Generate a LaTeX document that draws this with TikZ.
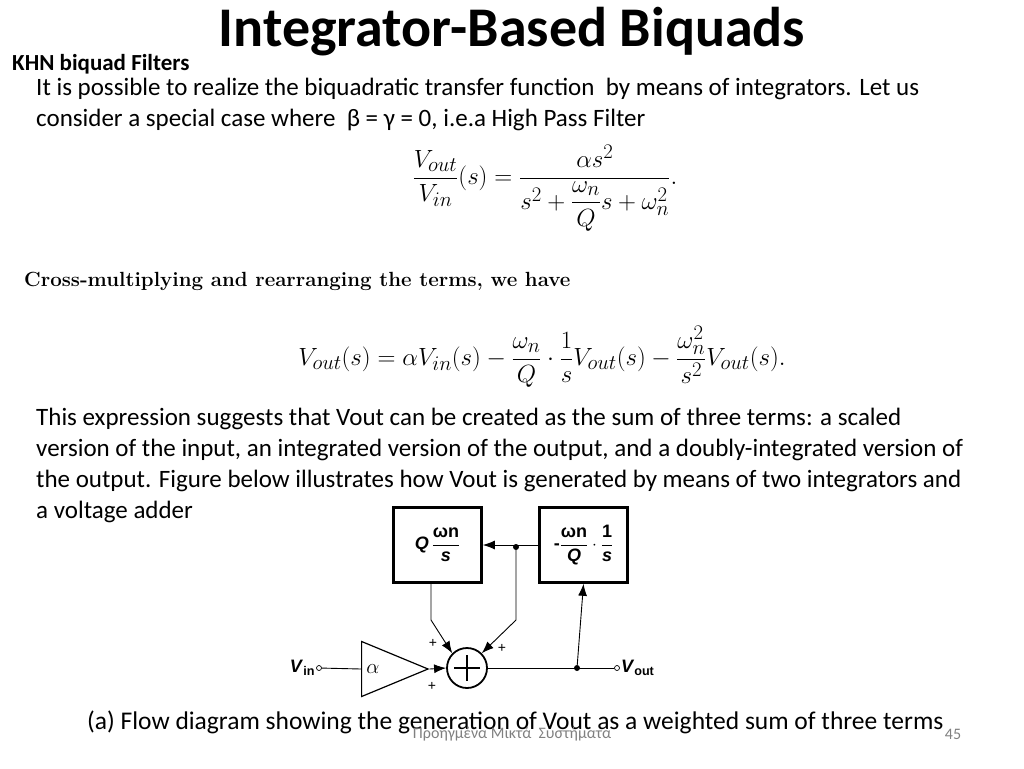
\documentclass[tikz,border=0pt]{standalone}
\usepackage{amsmath}
\usepackage{fontspec}
\setmainfont{Carlito}
\newfontfamily\lmr{Latin Modern Roman}
\newfontfamily\hv{Liberation Sans}
\usetikzlibrary{arrows.meta,shapes.geometric}
\newcommand{\bt}[1]{\text{\hv\bfseries #1}}
\begin{document}
\begin{tikzpicture}[x=1pt,y=-1pt,
  txt/.style={anchor=west,inner sep=0,font=\fontsize{25}{31}\selectfont,align=left},
  blk/.style={draw,line width=2.6pt,minimum width=88,minimum height=75,inner sep=0,font=\hv\bfseries\fontsize{18}{18}\selectfont},
  wire/.style={line width=0.9pt},
  arr/.style={wire,-{Latex[length=12,width=9]}},
  term/.style={circle,draw,inner sep=0,minimum size=5,line width=0.7pt},
  dot/.style={circle,fill,inner sep=0,minimum size=6},
  pl/.style={font=\hv\fontsize{14}{14}\selectfont}]
\useasboundingbox (0,0) rectangle (1024,768);
\node[inner sep=0,font=\bfseries\fontsize{56}{56}\selectfont] (title) at (512,32) {Integrator-Based Biquads};
\node[anchor=west,inner sep=0,font=\bfseries\fontsize{23}{23}\selectfont] (khn) at (12,64) {KHN biquad Filters};
\node[txt] (p1) at (36,104) {It is possible to realize the biquadratic transfer function\ \ by means of integrators. Let us\\consider a special case where\ \ β = γ = 0, i.e.a High Pass Filter};
\node[inner sep=0,font=\fontsize{29}{29}\selectfont] (eq1) at (545,188) {$\displaystyle\frac{V_{out}}{V_{in}}(s)=\frac{\alpha s^2}{s^2+\dfrac{\omega_n}{Q}s+\omega_n^2}.$};
\node[anchor=west,inner sep=0,font=\lmr\bfseries\fontsize{20.5}{20.5}\selectfont] (cm) at (24,281) {Cross-multiplying and rearranging the terms, we have};
\node[inner sep=0,font=\fontsize{28}{28}\selectfont] (eq2) at (542,357) {$\displaystyle V_{out}(s)=\alpha V_{in}(s)-\frac{\omega_n}{Q}\cdot\frac{1}{s}V_{out}(s)-\frac{\omega_n^2}{s^2}V_{out}(s).$};
\node[txt] (p2) at (36,465) {This expression suggests that Vout can be created as the sum of three terms: a scaled\\version of the input, an integrated version of the output, and a doubly-integrated version of\\the output. Figure below illustrates how Vout is generated by means of two integrators and\\a voltage adder};
% diagram
\node[blk] (b1) at (437.5,545) {$\bt{\itshape Q}\,\dfrac{\bt{ωn}}{\bt{\itshape s}}$};
\node[blk] (b2) at (583.5,545) {$\bt{-}\dfrac{\bt{ωn}}{\bt{\itshape Q}}\cdot\dfrac{\bt{1}}{\bt{\itshape s}}$};
\node[circle,draw,line width=1.8pt,minimum size=40,inner sep=0] (sum) at (467,668) {};
\draw[line width=2pt] (sum.center)+(-13,0) -- +(13,0) (sum.center)+(0,-13) -- +(0,13);
\node[draw,isosceles triangle,line width=1.2pt,minimum height=46,minimum width=55,inner sep=0] (amp) at (380,669) {};
\node[font=\fontsize{22}{22}\selectfont] (al) at (373,669) {$\alpha$};
\node[term] (vin) at (319,668) {};
\node[term] (vout) at (617,668) {};
\node[anchor=east,inner sep=1,font=\hv\bfseries\fontsize{18}{18}\selectfont] (vinl) at (vin.west) {\textit{V}\textsubscript{in}};
\node[anchor=west,inner sep=1,font=\hv\bfseries\fontsize{18}{18}\selectfont] (voutl) at (vout.east) {\textit{V}\textsubscript{out}};
\node[dot] (j1) at (516,547) {};
\node[dot] (j2) at (577,668) {};
\coordinate (c1) at (431,620);
\coordinate (c2) at (516,620);
\draw[wire] (vin) -- (amp.west);
\draw[arr] (amp.east) -- (sum.west);
\draw[wire] (sum.east) -- (vout);
\draw[arr] (j2) -- (b2.south);
\draw[arr] (b2.west) -- (b1.east);
\draw[arr] (b1.south-|c1) -- (c1) -- (sum.135);
\draw[arr] (j1) -- (c2) -- (sum.45);
\node[pl] (p1s) at (433,643) {+};
\node[pl] (p2s) at (502,648) {+};
\node[pl] (p3s) at (432,686) {+};
\node[anchor=west,inner sep=0,font=\fontsize{25.5}{25.5}\selectfont] (cap) at (87,722) {(a) Flow diagram showing the generation of Vout as a weighted sum of three terms};
\node[inner sep=0,text=gray,font=\fontsize{16}{16}\selectfont] (foot) at (512,734) {Προηγμένα Μικτά\ \ Συστήματα};
\node[inner sep=0,text=gray,font=\fontsize{16}{16}\selectfont] (pg) at (953,734) {45};
\end{tikzpicture}
\end{document}
